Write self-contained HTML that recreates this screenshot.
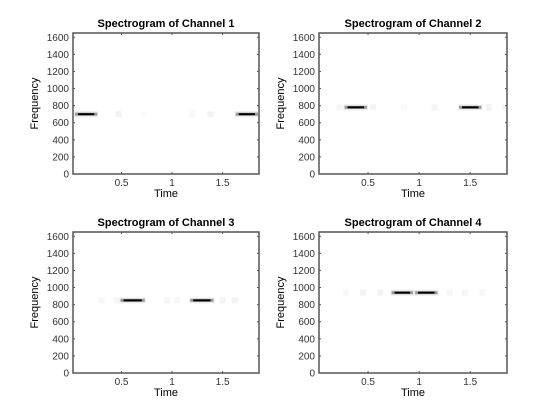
<!DOCTYPE html>
<html><head><meta charset="utf-8"><style>
body{margin:0;background:#fff;}
svg{display:block;font-family:"Liberation Sans",sans-serif;}
</style></head><body>
<svg id="fig" width="560" height="420" viewBox="0 0 560 420"></svg>
<script>
const channelTitles = ["Spectrogram of Channel 1","Spectrogram of Channel 2","Spectrogram of Channel 3","Spectrogram of Channel 4"];
const xTicks = [0.5, 1, 1.5];
const xTickLabels = ["0.5","1","1.5"];
const yTicks = [0,200,400,600,800,1000,1200,1400,1600];
// tone segments per channel: [frequency, tStart, tEnd]
const ch1Tones = [[700,0.06,0.24],[700,1.65,1.83]];
const ch2Tones = [[780,0.29,0.47],[780,1.41,1.59]];
const ch3Tones = [[850,0.51,0.71],[850,1.20,1.39]];
const ch4Tones = [[940,0.75,0.92],[940,0.98,1.16]];
// faint leakage blobs: [frequency, time, intensity(0-1 gray)]
const ch1Faint = [[700,0.47,0.95],[700,0.72,0.98],[700,1.2,0.97],[700,1.38,0.95]];
const ch2Faint = [[780,0.22,0.96],[780,0.55,0.96],[780,0.85,0.98],[780,1.15,0.96],[780,1.68,0.95],[780,1.84,0.97]];
const ch3Faint = [[850,0.3,0.97],[850,0.45,0.96],[850,0.95,0.96],[850,1.05,0.97],[850,1.5,0.96],[850,1.62,0.95]];
const ch4Faint = [[940,0.28,0.97],[940,0.45,0.95],[940,0.62,0.95],[940,1.3,0.96],[940,1.45,0.96],[940,1.62,0.97]];
const allTones=[ch1Tones,ch2Tones,ch3Tones,ch4Tones];
const allFaint=[ch1Faint,ch2Faint,ch3Faint,ch4Faint];
const xMin=0.02,xMax=1.86,yMin=0,yMax=1650;
const panels=[{l:73,t:33,w:186,h:141},{l:319,t:33,w:188,h:141},{l:73,t:232,w:186,h:141},{l:319,t:232,w:188,h:141}];
const NS="http://www.w3.org/2000/svg";
const svg=document.getElementById('fig');
function mk(tag,attrs,parent){const e=document.createElementNS(NS,tag);for(const k in attrs)e.setAttribute(k,attrs[k]);(parent||svg).appendChild(e);return e;}
panels.forEach((p,i)=>{
  const g=mk('g',{});
  
  
  const xs=v=>p.l+(v-xMin)/(xMax-xMin)*p.w;
  const ys=v=>p.t+p.h-(v-yMin)/(yMax-yMin)*p.h;
  allFaint[i].forEach(f=>{
    const c=Math.round(f[2]*255);
    const r=mk('rect',{x:xs(f[1])-3,y:ys(f[0])-3,width:6,height:6,fill:`rgb(${c},${c},${c})`},g);
    
    
  });
  allTones[i].forEach(tn=>{
    const x0=xs(tn[1]),x1=xs(tn[2]),y=ys(tn[0]);
    const halo=mk('rect',{x:x0-3,y:y-3,width:x1-x0+6,height:6,fill:'#ececec'},g);
    
    
    const edge=mk('rect',{x:x0-2,y:y-1.5,width:x1-x0+4,height:3,fill:'#999'},g);
    
    
    const b=mk('rect',{x:x0+1,y:y-1,width:x1-x0-2,height:2,fill:'#000'},g);
    
    
  });
  const fr=mk('rect',{x:p.l,y:p.t,width:p.w,height:p.h,fill:'none',stroke:'#555','stroke-width':1.5},g);
  
  
  xTicks.forEach((v,k)=>{
    const x=xs(v);
    mk('line',{x1:x,x2:x,y1:p.t+p.h,y2:p.t+p.h-2,stroke:'#555'},g);
    mk('line',{x1:x,x2:x,y1:p.t,y2:p.t+2,stroke:'#555'},g);
    const t=mk('text',{x:x,y:p.t+p.h+12,'text-anchor':'middle','font-size':10,fill:'#333'},g);
    t.textContent=xTickLabels[k];
    
    
  });
  yTicks.forEach(v=>{
    const y=ys(v);
    mk('line',{x1:p.l,x2:p.l+2,y1:y,y2:y,stroke:'#555'},g);
    mk('line',{x1:p.l+p.w,x2:p.l+p.w-2,y1:y,y2:y,stroke:'#555'},g);
    const t=mk('text',{x:p.l-4,y:y+3.5,'text-anchor':'end','font-size':10,fill:'#333'},g);
    t.textContent=String(v);
    
    
  });
  const ti=mk('text',{x:p.l+p.w/2,y:p.t-6,'text-anchor':'middle','font-size':11,'font-weight':'bold',fill:'#000'},g);
  ti.textContent=channelTitles[i];
  
  
  const xl=mk('text',{x:p.l+p.w/2,y:p.t+p.h+23,'text-anchor':'middle','font-size':11,fill:'#000'},g);
  xl.textContent='Time';
  
  
  const yl=mk('text',{x:0,y:0,'text-anchor':'middle','font-size':11,fill:'#000',transform:`translate(${p.l-35},${p.t+p.h/2}) rotate(-90)`},g);
  yl.textContent='Frequency';
  
  
});
</script>
</body></html>
